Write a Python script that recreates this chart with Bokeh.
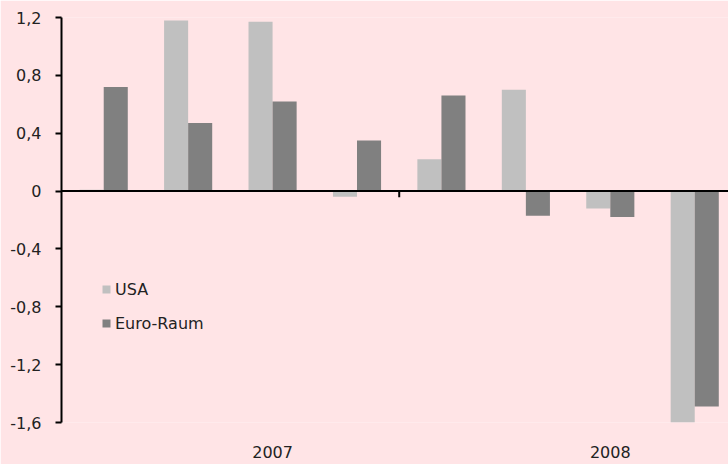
import numpy as np
from bokeh.plotting import figure
from bokeh.models import Range1d, FixedTicker, Span, Legend, LegendItem, ColumnDataSource
from bokeh.embed import file_html
from bokeh.resources import INLINE

# ---- data ----
quarters = ["Q1 2007", "Q2 2007", "Q3 2007", "Q4 2007",
            "Q1 2008", "Q2 2008", "Q3 2008", "Q4 2008"]
usa = [0.01, 1.18, 1.17, -0.04, 0.22, 0.70, -0.12, -1.60]
euro = [0.72, 0.47, 0.62, 0.35, 0.66, -0.17, -0.18, -1.49]
years = ["2007", "2008"]
year_label_pos = [2.5, 6.5]
yticks = [-1.6, -1.2, -0.8, -0.4, 0, 0.4, 0.8, 1.2]
ytick_labels = ["-1,6", "-1,2", "-0,8", "-0,4", "0", "0,4", "0,8", "1,2"]

BG = "#FFE4E6"
FONT = "DejaVu Sans"
TXT = "#222222"
BW = 0.285

centers = np.arange(len(quarters)) + 0.5
src = ColumnDataSource(dict(q=quarters, x_usa=centers - BW / 2, x_euro=centers + BW / 2,
                            usa=usa, euro=euro))

p = figure(width=728, height=464, x_range=Range1d(0, 7.9), y_range=Range1d(-1.6, 1.2),
           output_backend="svg", toolbar_location=None,
           min_border_left=61, min_border_right=0, min_border_top=17, min_border_bottom=42,
           background_fill_color=BG, border_fill_color=BG, outline_line_color=None)
p.grid.visible = False

r1 = p.vbar(x="x_usa", top="usa", bottom=0, width=BW, source=src,
            fill_color="#C0C0C0", line_color=None)
r2 = p.vbar(x="x_euro", top="euro", bottom=0, width=BW, source=src,
            fill_color="#808080", line_color=None)

# zero line and year boundary tick
p.add_layout(Span(location=0, dimension="width", line_color="black", line_width=2))
boundary = sum(1 for q in quarters if q.endswith(years[0]))
p.segment(x0=[boundary], y0=[0], x1=[boundary], y1=[-0.042], line_color="black", line_width=2)

# y axis
ya = p.yaxis[0]
ya.ticker = FixedTicker(ticks=yticks)
ya.major_label_overrides = {v: s for v, s in zip(yticks, ytick_labels)}
ya.axis_line_color = "black"
ya.axis_line_width = 2
ya.major_tick_line_color = "black"
ya.major_tick_line_width = 2
ya.major_tick_out = 6
ya.major_tick_in = 0
ya.minor_tick_line_color = None
ya.major_label_standoff = 14
ya.major_label_text_font = FONT
ya.major_label_text_font_size = "16px"
ya.major_label_text_color = TXT

# x axis (year labels only)
xa = p.xaxis[0]
xa.ticker = FixedTicker(ticks=year_label_pos)
xa.major_label_overrides = {v: s for v, s in zip(year_label_pos, years)}
xa.axis_line_color = None
xa.major_tick_line_color = None
xa.minor_tick_line_color = None
xa.major_tick_out = 0
xa.major_tick_in = 0
xa.major_label_standoff = 23
xa.major_label_text_font = FONT
xa.major_label_text_font_size = "16px"
xa.major_label_text_color = TXT

legend = Legend(items=[LegendItem(label="USA", renderers=[r1]),
                       LegendItem(label="Euro-Raum", renderers=[r2])],
                location=(40, 89), padding=0, margin=0, spacing=14,
                glyph_width=10, glyph_height=10, label_height=20, label_standoff=4,
                background_fill_alpha=0, border_line_color=None,
                label_text_font=FONT, label_text_font_size="16px", label_text_color=TXT)
p.add_layout(legend)

open("out.html", "w").write(file_html(p, INLINE))
